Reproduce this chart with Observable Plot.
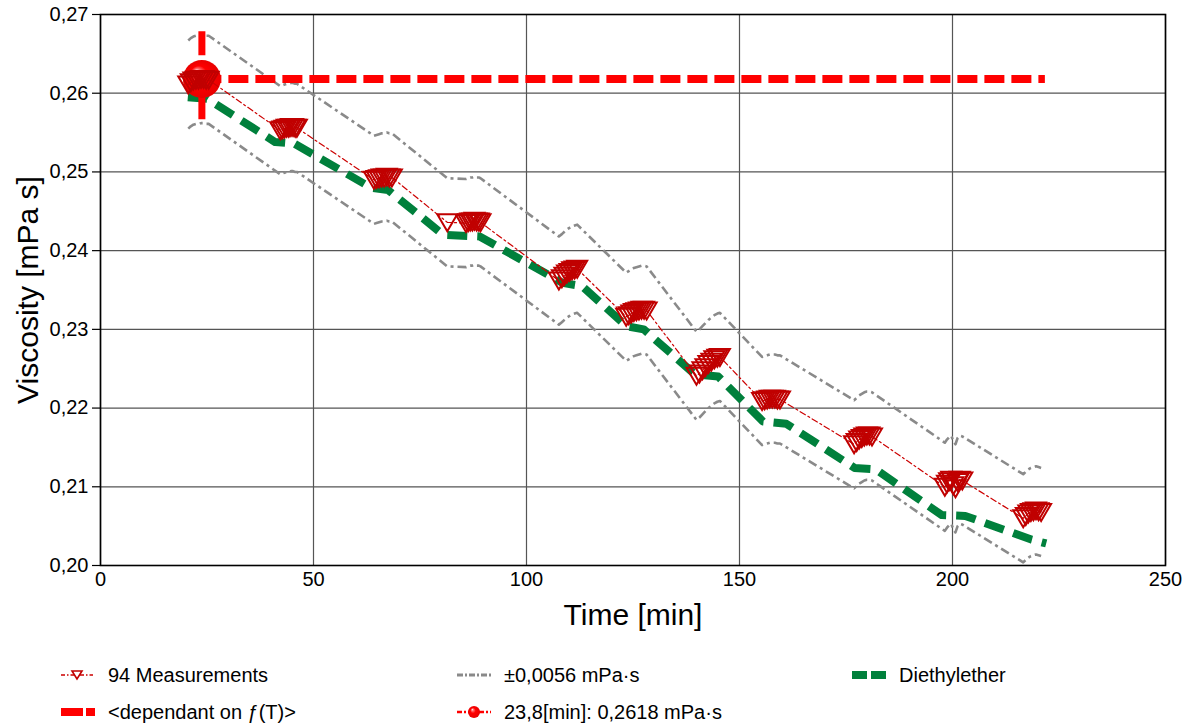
<!DOCTYPE html>
<html>
<head>
<meta charset="utf-8">
<script src="https://cdn.jsdelivr.net/npm/d3@7"></script>
<script src="https://cdn.jsdelivr.net/npm/@observablehq/plot@0.6"></script>
<style>
  body { margin: 0; background: #fff; font-family: "Liberation Sans", Arial, sans-serif; }
  #wrap { position: relative; width: 1192px; height: 726px; overflow: hidden; }
  #chart { position: absolute; left: 0; top: 0; }
  .item { position: absolute; height: 24px; display: flex; align-items: center; font-size: 20px; color: #000; white-space: nowrap; }
  .item svg { display: block; }
</style>
</head>
<body>
<div id="wrap">
  <div id="chart"></div>
  <div id="legend"></div>
</div>
<script>
// Axis ticks
const xTicks = [0, 50, 100, 150, 200, 250];
const yTicks = [0.20, 0.21, 0.22, 0.23, 0.24, 0.25, 0.26, 0.27];

// 94 viscosity measurements, taken in 11 groups [min, mPa·s]
const measTime = [
  20.6, 21.2, 21.8, 22.4, 23.0, 23.6, 24.2, 24.8, 25.4,
  42.2, 42.7, 43.2, 43.7, 44.2, 44.7, 45.2, 45.7, 46.1,
  64.2, 64.8, 65.4, 66.0, 66.6, 67.2, 67.8, 68.4,
  81.4, 85.8, 86.3, 86.8, 87.3, 87.8, 88.3, 88.8, 89.2,
  107.6, 108.3, 108.9, 109.5, 110.1, 110.7, 111.3, 111.9,
  123.4, 124.0, 124.6, 125.2, 125.8, 126.4, 127.0, 127.6, 128.2,
  139.9, 140.6, 141.3, 142.0, 142.7, 143.4, 144.1, 144.8, 145.4,
  155.3, 155.9, 156.5, 157.1, 157.7, 158.3, 158.9, 159.5,
  176.9, 177.5, 178.1, 178.7, 179.3, 179.9, 180.5, 181.1,
  198.2, 198.7, 199.2, 199.7, 200.2, 200.7, 201.2, 201.7, 202.3,
  216.6, 217.2, 217.8, 218.4, 219.0, 219.6, 220.2, 220.8
];
const measVisc = [
  0.2611, 0.2614, 0.2616, 0.2617, 0.2617, 0.2618, 0.2618, 0.2617, 0.2617,
  0.2553, 0.2554, 0.2555, 0.2556, 0.2556, 0.2557, 0.2557, 0.2556, 0.2556,
  0.2490, 0.2491, 0.2492, 0.2493, 0.2493, 0.2494, 0.2493, 0.2493,
  0.2436, 0.2435, 0.2436, 0.2437, 0.2437, 0.2438, 0.2437, 0.2437, 0.2436,
  0.2362, 0.2365, 0.2368, 0.2371, 0.2373, 0.2375, 0.2376, 0.2377,
  0.2316, 0.2318, 0.2320, 0.2322, 0.2323, 0.2324, 0.2325, 0.2325, 0.2324,
  0.2241, 0.2244, 0.2248, 0.2252, 0.2256, 0.2259, 0.2262, 0.2264, 0.2265,
  0.2209, 0.2210, 0.2211, 0.2212, 0.2212, 0.2212, 0.2211, 0.2211,
  0.2154, 0.2157, 0.2160, 0.2162, 0.2164, 0.2165, 0.2165, 0.2164,
  0.2100, 0.2104, 0.2107, 0.2109, 0.2102, 0.2098, 0.2106, 0.2109, 0.2108,
  0.2060, 0.2063, 0.2066, 0.2068, 0.2069, 0.2070, 0.2069, 0.2068
];

// Measurement tolerance [mPa·s]
const tolerance = 0.0056;

// Diethylether reference viscosity [min, mPa·s]
const etherTime = [20.5, 25.0, 41.0, 45.5, 63.5, 67.5, 80.5, 89.0, 108.5, 113.0, 123.5, 127.5, 139.5, 145.0, 155.5, 161.0, 177.0, 182.0, 197.5, 203.0, 218.5, 222.0];
const etherVisc = [0.2595, 0.2593, 0.2538, 0.2536, 0.2480, 0.2477, 0.2420, 0.2418, 0.2359, 0.2355, 0.2304, 0.2300, 0.2243, 0.2240, 0.2183, 0.2180, 0.2124, 0.2122, 0.2064, 0.2063, 0.2033, 0.2028];

// Reference point and its T-dependent guide lines
const refTime = 23.8;
const refVisc = 0.2618;
const refEndTime = 221.8;
const refHalfSpan = 0.006;

const fmtY = d => d.toFixed(2).replace(".", ",");

const measurements = measTime.map((t, i) => ({t, v: measVisc[i]}));
const upperBand = measurements.map(d => ({t: d.t, v: d.v + tolerance}));
const lowerBand = measurements.map(d => ({t: d.t, v: d.v - tolerance}));
const ether = etherTime.map((t, i) => ({t, v: etherVisc[i]}));

// Open triangle pointing down
const triangleDown = {
  draw(context, size) {
    const r = Math.sqrt(size / Math.PI);
    context.moveTo(-r, -0.8 * r);
    context.lineTo(r, -0.8 * r);
    context.lineTo(0, 0.9 * r);
    context.closePath();
  }
};

// Radial gradient for the shaded reference sphere
const sphereDefs = () => {
  const defs = d3.create("svg:defs");
  const g = defs.append("radialGradient")
    .attr("id", "sphereGrad")
    .attr("cx", "50%").attr("cy", "50%").attr("r", "50%")
    .attr("fx", "35%").attr("fy", "28%");
  g.append("stop").attr("offset", "0%").attr("stop-color", "#ffffff");
  g.append("stop").attr("offset", "18%").attr("stop-color", "#ff7070");
  g.append("stop").attr("offset", "45%").attr("stop-color", "#ff0000");
  g.append("stop").attr("offset", "100%").attr("stop-color", "#e80000");
  return defs.node();
};

const chart = Plot.plot({
  width: 1192,
  height: 645,
  marginLeft: 100,
  marginRight: 27,
  marginTop: 14,
  marginBottom: 80,
  style: {fontFamily: "'Liberation Sans', Arial, sans-serif", fontSize: "20px", background: "white", color: "black"},
  x: {domain: [0, 250]},
  y: {domain: [0.20, 0.27]},
  marks: [
    sphereDefs,
    Plot.gridX(xTicks, {stroke: "#555", strokeOpacity: 1, strokeWidth: 1.2}),
    Plot.gridY(yTicks, {stroke: "#555", strokeOpacity: 1, strokeWidth: 1.2}),
    Plot.axisY(yTicks, {tickSize: 8, tickPadding: 4, tickFormat: fmtY, label: null, fontSize: 20, strokeWidth: 1.2}),
    Plot.axisX(xTicks, {tickSize: 0, tickPadding: 6, tickFormat: d => String(d), label: null, fontSize: 20}),
    Plot.frame({stroke: "black", strokeWidth: 1.6}),
    // tolerance band
    Plot.line(upperBand, {x: "t", y: "v", stroke: "#8a8a8a", strokeWidth: 2.6, strokeDasharray: "9 4 3 4", strokeLinecap: "butt"}),
    Plot.line(lowerBand, {x: "t", y: "v", stroke: "#8a8a8a", strokeWidth: 2.6, strokeDasharray: "9 4 3 4", strokeLinecap: "butt"}),
    // diethylether reference
    Plot.line(ether, {x: "t", y: "v", stroke: "#00803c", strokeWidth: 8, strokeDasharray: "20 10", strokeLinecap: "butt", strokeLinejoin: "round"}),
    // guide lines through the reference point
    Plot.ruleY([refVisc], {x1: refTime, x2: refEndTime, stroke: "#ff0000", strokeWidth: 8, strokeDasharray: "20 7"}),
    Plot.ruleX([refTime], {y1: refVisc + refHalfSpan, y2: refVisc - refHalfSpan, stroke: "#ff0000", strokeWidth: 7, strokeDasharray: "24 8"}),
    Plot.dot([{t: refTime, v: refVisc}], {x: "t", y: "v", r: 19, fill: "url(#sphereGrad)", stroke: "none"}),
    // measurements
    Plot.line(measurements, {x: "t", y: "v", stroke: "#cc0000", strokeWidth: 1.2, strokeDasharray: "6 3 2 3"}),
    Plot.dot(measurements, {x: "t", y: "v", symbol: triangleDown, r: 10, fill: "none", stroke: "#c00000", strokeWidth: 2}),
    // axis titles
    Plot.text(["Time [min]"], {frameAnchor: "bottom", dy: 50, fontSize: 30, lineAnchor: "middle", textAnchor: "middle"}),
    Plot.text(["Viscosity [mPa s]"], {frameAnchor: "left", dx: -72, rotate: -90, fontSize: 30, lineAnchor: "middle", textAnchor: "middle"})
  ]
});
document.getElementById("chart").appendChild(chart);

// Legend below the chart
const legendItems = [
  {label: "94 Measurements", x: 61, y: 663, kind: "meas"},
  {label: "±0,0056 mPa·s", x: 457, y: 663, kind: "band"},
  {label: "Diethylether", x: 852, y: 663, kind: "ether"},
  {label: "<dependant on ƒ(T)>", x: 61, y: 700, kind: "guide"},
  {label: "23,8[min]: 0,2618 mPa·s", x: 457, y: 700, kind: "ref"}
];
const legend = d3.select("#legend");
for (const it of legendItems) {
  const div = legend.append("div").attr("class", "item").style("left", it.x + "px").style("top", it.y + "px");
  const s = div.append("svg").attr("width", 34).attr("height", 24);
  if (it.kind === "meas") {
    s.append("line").attr("x1", 0).attr("x2", 32).attr("y1", 12).attr("y2", 12)
      .attr("stroke", "#cc0000").attr("stroke-width", 1.5).attr("stroke-dasharray", "4 2 1.5 2");
    s.append("path").attr("d", "M11,8 L21,8 L16,16 Z").attr("fill", "white").attr("stroke", "#c00000").attr("stroke-width", 1.6);
  } else if (it.kind === "band") {
    s.append("line").attr("x1", 0).attr("x2", 34).attr("y1", 12).attr("y2", 12)
      .attr("stroke", "#8a8a8a").attr("stroke-width", 3).attr("stroke-dasharray", "6 2 2 2");
  } else if (it.kind === "ether") {
    s.append("rect").attr("x", 0).attr("y", 8).attr("width", 15).attr("height", 8).attr("fill", "#00803c");
    s.append("rect").attr("x", 19).attr("y", 8).attr("width", 15).attr("height", 8).attr("fill", "#00803c");
  } else if (it.kind === "guide") {
    s.append("rect").attr("x", 0).attr("y", 8).attr("width", 22).attr("height", 8).attr("fill", "#ff0000");
    s.append("rect").attr("x", 25).attr("y", 8).attr("width", 9).attr("height", 8).attr("fill", "#ff0000");
  } else if (it.kind === "ref") {
    s.append("line").attr("x1", 0).attr("x2", 34).attr("y1", 12).attr("y2", 12)
      .attr("stroke", "#ff0000").attr("stroke-width", 2.5).attr("stroke-dasharray", "5 2 2 2");
    s.append("circle").attr("cx", 17).attr("cy", 12).attr("r", 6).attr("fill", "url(#sphereGrad)");
  }
  div.append("span").style("margin-left", "13px").text(it.label);
}
</script>
</body>
</html>
